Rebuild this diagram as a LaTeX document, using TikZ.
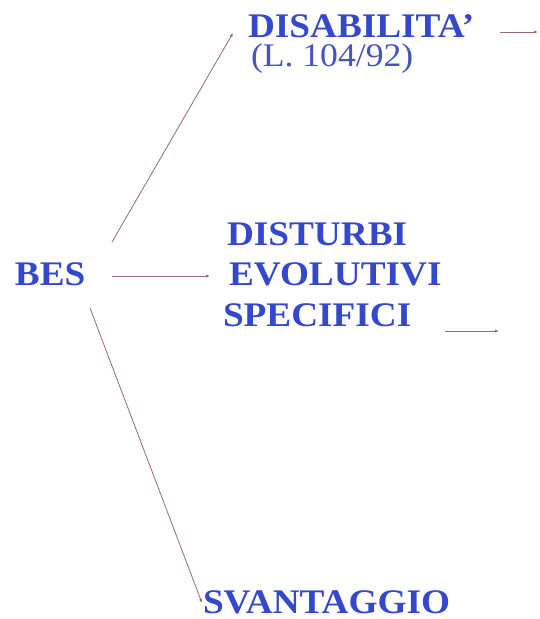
\documentclass[tikz,border=0pt]{standalone}
\usepackage{fontspec}
\setmainfont{Liberation Serif}[FakeStretch=1.08]
\usetikzlibrary{arrows.meta}
\definecolor{txtblue}{RGB}{52,72,205}
\definecolor{lawblue}{RGB}{70,85,190}
\definecolor{arrowcol}{RGB}{150,105,115}
\tikzset{
  lbl/.style={anchor=base west, inner sep=0pt, outer sep=0pt, text=txtblue,
    font=\fontsize{34.5}{41}\selectfont\bfseries},
  sublbl/.style={anchor=base west, inner sep=0pt, outer sep=0pt, text=lawblue,
    font=\fontsize{33}{41}\selectfont},
  conn/.style={draw=arrowcol, line width=0.8pt, -{Latex[length=4pt,width=3.2pt]}}
}
\begin{document}
\begin{tikzpicture}[x=1pt,y=-1pt]
\useasboundingbox[fill=white] (0,0) rectangle (539,619);
% nodes
\node[lbl] (bes) at (15,285) {BES};
\node[lbl] (dis) at (248,37) {DISABILITA’};
\node[sublbl] (law) at (251,66) {(L. 104/92)};
\node[lbl] (dse1) at (227,245) {DISTURBI};
\node[lbl] (dse2) at (229,285) {EVOLUTIVI};
\node[lbl] (dse3) at (223,326) {SPECIFICI};
\node[lbl] (sva) at (203,613) {SVANTAGGIO};
% connector ends
\coordinate (c1s) at (112,242);
\coordinate (c1e) at (233,33);
\coordinate (c2s) at (112,276);
\coordinate (c2e) at (210,276);
\coordinate (c3s) at (90,308);
\coordinate (c3e) at (202,603);
\coordinate (c4s) at (500,32);
\coordinate (c4e) at (538,32);
\coordinate (c5s) at (445,331);
\coordinate (c5e) at (499,331);
% connectors
\draw[conn] (c1s) -- (c1e);
\draw[conn] (c2s) -- (c2e);
\draw[conn] (c3s) -- (c3e);
\draw[conn] (c4s) -- (c4e);
\draw[conn] (c5s) -- (c5e);
\end{tikzpicture}
\end{document}
